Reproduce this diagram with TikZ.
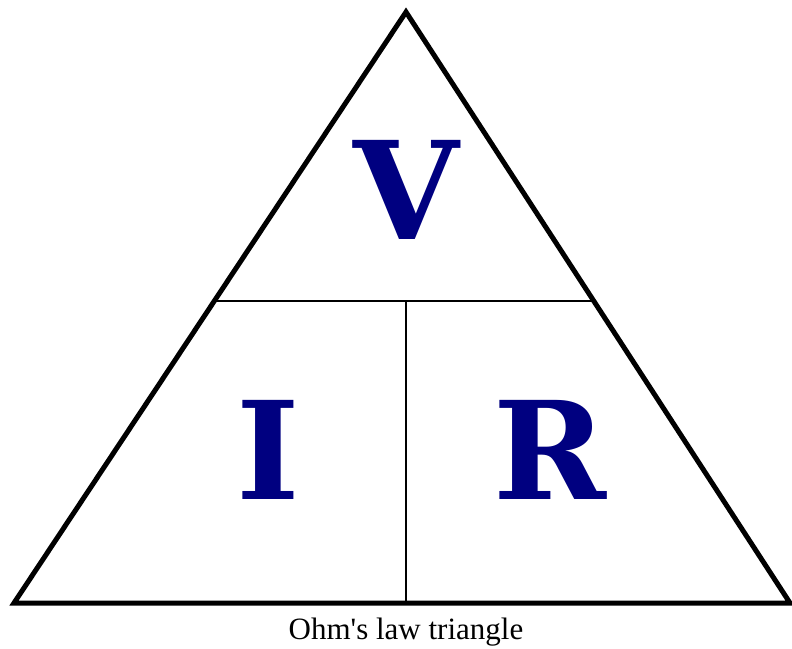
\documentclass[tikz,border=0pt]{standalone}
\usepackage{fontspec}
\setmainfont{Liberation Serif}
\newfontfamily\letterfont{DejaVu Serif}
\usetikzlibrary{calc}
\definecolor{ohmblue}{RGB}{0,0,128}
\tikzset{
    bigletter/.style={text=ohmblue, font=\letterfont\bfseries\fontsize{136}{136}\selectfont, inner sep=0pt, anchor=center},
}
\begin{document}
\begin{tikzpicture}[x=1pt,y=-1pt]
    % Khung hình
    \useasboundingbox (0,0) rectangle (792,648);
    
    % Các đỉnh tam giác
    \coordinate (top) at (406,12);
    \coordinate (left) at (14,603);
    \coordinate (right) at (790,603);
    
    % Đường ngang và đường dọc
    \coordinate (hl) at ($(top)!0.489!(left)$);
    \coordinate (hr) at ($(top)!0.489!(right)$);
    \coordinate (mid) at (406,301);
    \coordinate (bot) at (406,603);
    \draw[line width=2.4pt] (hl) -- (hr);
    \draw[line width=2.4pt] (mid) -- (bot);
    
    % Vẽ tam giác
    \draw[line width=5pt, line join=miter] (top) -- (left) -- (right) -- cycle;
    
    % Các chữ V, I, R
    \node[bigletter] (V) at (406,190) {V};
    \node[bigletter] (I) at (268,450) {I};
    \node[bigletter] (R) at (550,450) {R};
    
    % Chú thích
    \node[font=\fontsize{31}{31}\selectfont] (cap) at (406,632) {Ohm\textquotesingle s law triangle};
\end{tikzpicture}
\end{document}
